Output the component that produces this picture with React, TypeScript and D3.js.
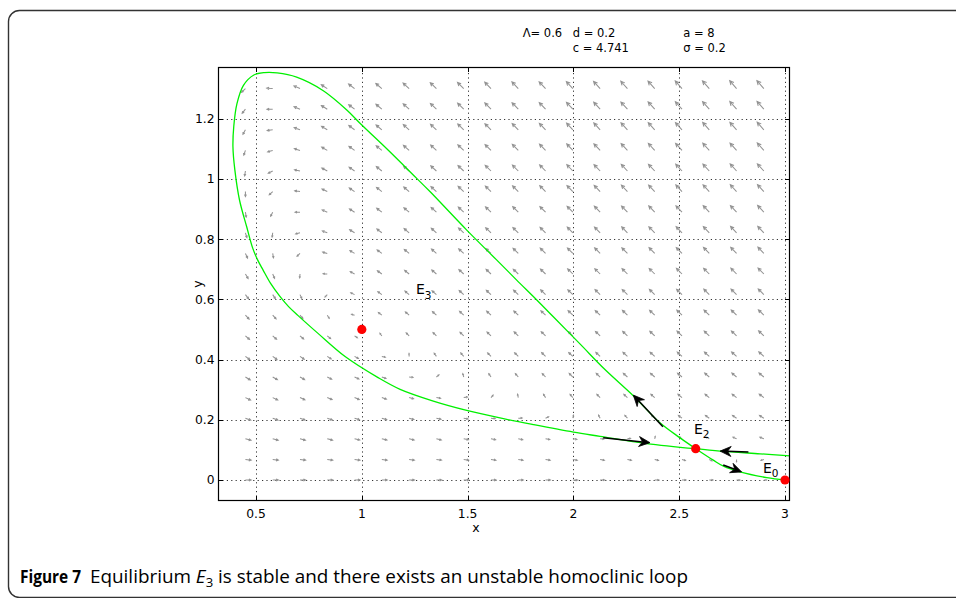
import React from 'react';
import * as d3 from 'd3';

const W = 956;
const H = 598;

// ---- data ----
const X_TICKS = [0.5, 1, 1.5, 2, 2.5, 3];
const X_TICK_LABELS = ['0.5', '1', '1.5', '2', '2.5', '3'];
const Y_TICKS = [0, 0.2, 0.4, 0.6, 0.8, 1, 1.2];
const Y_TICK_LABELS = ['0', '0.2', '0.4', '0.6', '0.8', '1', '1.2'];

// parameters shown in the header
const PARAM_LINE1 = [
  { t: '\u039B= 0.6', x: 522.7 },
  { t: 'd = 0.2', x: 572.7 },
  { t: 'a = 8', x: 683.3 },
];
const PARAM_LINE2 = [
  { t: 'c = 4.741', x: 572.7 },
  { t: '\u03C3 = 0.2', x: 683.3 },
];

// phase-plane model (Lambda, d from the header; incidence fitted to the equilibria)
const LAMBDA = 0.6;
const DEATH = 0.2;
const K_INC = 1.212;
const P_INC = 1.6;
const M_REM = 0.8;

// quiver grid
const FIELD_X = [0.45, 0.5789, 0.7079, 0.8368, 0.9658, 1.0947, 1.2237, 1.3526, 1.4816, 1.6105,
  1.7395, 1.8684, 1.9974, 2.1263, 2.2553, 2.3842, 2.5132, 2.6421, 2.7711, 2.9];
const FIELD_Y = [0, 0.0684, 0.1368, 0.2053, 0.2737, 0.3421, 0.4105, 0.4789, 0.5474, 0.6158,
  0.6842, 0.7526, 0.8211, 0.8895, 0.9579, 1.0263, 1.0947, 1.1632, 1.2316, 1.3];

// homoclinic loop (from E2, up-left, around, back to E2)
const LOOP: [number, number][] = [
  [2.578, 0.104], [2.504, 0.140], [2.409, 0.190], [2.283, 0.280], [2.149, 0.367],
  [2.031, 0.452], [1.905, 0.542], [1.827, 0.598], [1.732, 0.664], [1.637, 0.731],
  [1.496, 0.830], [1.322, 0.958], [1.242, 1.014], [1.118, 1.100], [1.0, 1.179],
  [0.929, 1.229], [0.818, 1.293], [0.692, 1.338], [0.600, 1.352], [0.540, 1.353],
  [0.490, 1.345], [0.440, 1.310], [0.410, 1.250], [0.395, 1.175], [0.391, 1.107],
  [0.400, 1.030], [0.422, 0.930], [0.456, 0.841], [0.484, 0.771], [0.507, 0.732],
  [0.533, 0.698], [0.569, 0.653], [0.613, 0.610], [0.654, 0.576], [0.699, 0.546],
  [0.793, 0.487], [0.921, 0.410], [1.077, 0.340], [1.181, 0.301], [1.338, 0.262],
  [1.496, 0.231], [1.653, 0.206], [1.810, 0.184], [2.0, 0.159], [2.126, 0.145],
  [2.346, 0.121], [2.578, 0.104],
];
// stable manifold branch from the right
const STABLE_RIGHT: [number, number][] = [
  [2.578, 0.104], [2.693, 0.096], [2.882, 0.087], [3.03, 0.080],
];
// unstable branch from E2 to E0
const UNSTABLE_E0: [number, number][] = [
  [2.578, 0.104], [2.661, 0.066], [2.709, 0.046], [2.787, 0.027], [2.914, 0.008], [3.0, 0.0],
];

// black direction arrows: [x tail, y tail, x head, y head]
const BLACK_ARROWS: [number, number, number, number][] = [
  [2.423, 0.177, 2.283, 0.282],
  [2.141, 0.140, 2.362, 0.124],
  [2.827, 0.093, 2.693, 0.096],
  [2.708, 0.050, 2.795, 0.027],
];

const EQUILIBRIA = [
  { name: 'E', sub: '3', x: 1.0, y: 0.5, lx: 416, ly: 294.3 },
  { name: 'E', sub: '2', x: 2.578, y: 0.104, lx: 694, ly: 433.5 },
  { name: 'E', sub: '0', x: 3.0, y: 0.0, lx: 763, ly: 472.5 },
];

// ---- layout ----
const PL = 218, PR = 790, PT = 67, PB = 501;
const xScale = d3.scaleLinear().domain([0.3204, 3.0236]).range([PL, PR]);
const yScale = d3.scaleLinear().domain([-0.0697, 1.3717]).range([PB, PT]);

const TICK_FONT = 'DejaVu Sans, Verdana, sans-serif';

function vec(x: number, y: number): [number, number] {
  const h = K_INC * x * Math.pow(y, P_INC);
  return [LAMBDA - DEATH * x - h, h - M_REM * y];
}

function fieldPaths(): string[] {
  const out: string[] = [];
  const sx = (xScale(1) - xScale(0));
  const sy = (yScale(0) - yScale(1));
  for (const yv of FIELD_Y) {
    for (const xv of FIELD_X) {
      const [u, v] = vec(xv, yv);
      const s = Math.hypot(u, v);
      if (s < 1e-9) continue;
      const dx = u * sx, dy = -v * sy;
      const dl = Math.hypot(dx, dy);
      const ux = dx / dl, uy = dy / dl;
      const L = 6.8 * Math.pow(s, 0.23);
      const bx = xScale(xv), by = yScale(yv);
      const tx = bx + L * ux, ty = by + L * uy;
      const hl = 0.44 * L;
      const ang = (26 * Math.PI) / 180;
      const c = Math.cos(ang), sn = Math.sin(ang);
      const bxu = -ux, byu = -uy;
      const h1x = tx + hl * (bxu * c - byu * sn), h1y = ty + hl * (bxu * sn + byu * c);
      const h2x = tx + hl * (bxu * c + byu * sn), h2y = ty + hl * (-bxu * sn + byu * c);
      out.push(`M${bx.toFixed(2)},${by.toFixed(2)}L${tx.toFixed(2)},${ty.toFixed(2)}M${h1x.toFixed(2)},${h1y.toFixed(2)}L${tx.toFixed(2)},${ty.toFixed(2)}L${h2x.toFixed(2)},${h2y.toFixed(2)}`);
    }
  }
  return out;
}

function blackArrow(a: [number, number, number, number]) {
  const x1 = xScale(a[0]), y1 = yScale(a[1]), x2 = xScale(a[2]), y2 = yScale(a[3]);
  const len = Math.hypot(x2 - x1, y2 - y1);
  const ux = (x2 - x1) / len, uy = (y2 - y1) / len;
  const nx = -uy, ny = ux;
  const hl = 11, hw = 5, notch = 3.5;
  const bx = x2 - hl * ux, by = y2 - hl * uy;
  const mx = x2 - (hl - notch) * ux, my = y2 - (hl - notch) * uy;
  const head = `M${x2},${y2}L${bx + hw * nx},${by + hw * ny}L${mx},${my}L${bx - hw * nx},${by - hw * ny}Z`;
  return { shaft: `M${x1},${y1}L${mx},${my}`, head };
}

export default function App() {
  const line = d3.line<[number, number]>()
    .x(d => xScale(d[0]))
    .y(d => yScale(d[1]))
    .curve(d3.curveCatmullRom.alpha(0.5));
  const paths = fieldPaths();
  const gridDash = '1.2,3.2';

  return (
    <svg width={W} height={H} style={{ position: 'absolute', left: 0, top: 0, background: '#fff' }}>
      <defs>
        <clipPath id="plotclip">
          <rect x={PL} y={PT} width={PR - PL} height={PB - PT} />
        </clipPath>
      </defs>
      {/* card border */}
      <rect x={8.5} y={10.5} width={990} height={587} rx={11} ry={11} fill="none" stroke="#333" strokeWidth={1.4} />

      {/* header parameters */}
      <g fontFamily={TICK_FONT} fontSize={11.5} fill="#000">
        {PARAM_LINE1.map(p => <text key={p.t} x={p.x} y={37.3}>{p.t}</text>)}
        {PARAM_LINE2.map(p => <text key={p.t} x={p.x} y={51.7}>{p.t}</text>)}
      </g>

      {/* grid */}
      <g stroke="#333" strokeWidth={1} strokeDasharray={gridDash}>
        {X_TICKS.map(t => (
          <line key={'gx' + t} x1={Math.round(xScale(t)) + 0.5} x2={Math.round(xScale(t)) + 0.5} y1={PB} y2={PT} />
        ))}
        {Y_TICKS.map(t => (
          <line key={'gy' + t} x1={PL} x2={PR} y1={Math.round(yScale(t)) + 0.5} y2={Math.round(yScale(t)) + 0.5} />
        ))}
      </g>

      {/* vector field */}
      <g clipPath="url(#plotclip)" fill="none" stroke="#939393" strokeWidth={1.05}>
        {paths.map((d, i) => <path key={i} d={d} />)}
      </g>

      {/* trajectories */}
      <g clipPath="url(#plotclip)" fill="none" stroke="#00f000" strokeWidth={1.3}>
        <path d={line(LOOP) || ''} />
        <path d={line(STABLE_RIGHT) || ''} />
        <path d={line(UNSTABLE_E0) || ''} />
      </g>

      {/* black arrows */}
      <g>
        {BLACK_ARROWS.map((a, i) => {
          const b = blackArrow(a);
          return (
            <g key={i}>
              <path d={b.shaft} stroke="#000" strokeWidth={1.5} fill="none" />
              <path d={b.head} fill="#000" stroke="#000" strokeWidth={0.8} strokeLinejoin="miter" />
            </g>
          );
        })}
      </g>

      {/* axes box and ticks */}
      <rect x={PL + 0.5} y={PT + 0.5} width={PR - PL - 1} height={PB - PT - 1} fill="none" stroke="#000" strokeWidth={1.2} />
      <g stroke="#000" strokeWidth={1}>
        {X_TICKS.map(t => {
          const x = Math.round(xScale(t)) + 0.5;
          return (
            <g key={'tx' + t}>
              <line x1={x} x2={x} y1={PB} y2={PB - 5} />
              <line x1={x} x2={x} y1={PT} y2={PT + 5} />
            </g>
          );
        })}
        {Y_TICKS.map(t => {
          const y = Math.round(yScale(t)) + 0.5;
          return (
            <g key={'ty' + t}>
              <line x1={PL} x2={PL + 5} y1={y} y2={y} />
              <line x1={PR} x2={PR - 5} y1={y} y2={y} />
            </g>
          );
        })}
      </g>

      {/* tick labels */}
      <g fontFamily={TICK_FONT} fontSize={12.3} fill="#000">
        {X_TICKS.map((t, i) => (
          <text key={'lx' + t} x={xScale(t)} y={517.5} textAnchor="middle">{X_TICK_LABELS[i]}</text>
        ))}
        {Y_TICKS.map((t, i) => (
          <text key={'ly' + t} x={214.5} y={yScale(t) + 4.4} textAnchor="end">{Y_TICK_LABELS[i]}</text>
        ))}
        <text x={476} y={532} textAnchor="middle" fontSize={12.5}>x</text>
        <text transform="translate(202,284) rotate(-90)" textAnchor="middle" fontSize={12.5}>y</text>
      </g>

      {/* equilibria */}
      <g fill="#ff0000">
        {EQUILIBRIA.map(e => <circle key={e.sub} cx={xScale(e.x)} cy={yScale(e.y)} r={4.6} />)}
      </g>
      <g fontFamily={TICK_FONT} fill="#000">
        {EQUILIBRIA.map(e => (
          <text key={'t' + e.sub} x={e.lx} y={e.ly} fontSize={14}>
            {e.name}
            <tspan fontSize={10.5} dy={4.5}>{e.sub}</tspan>
          </text>
        ))}
      </g>

      {/* caption */}
      <text x={20} y={583} fontFamily="'Open Sans', sans-serif" fontSize={18} fontWeight="bold" fill="#000"
        textLength={61} lengthAdjust="spacingAndGlyphs">Figure 7</text>
      <text x={90} y={583} fontFamily="'Open Sans', sans-serif" fontSize={18} fill="#000"
        textLength={598} lengthAdjust="spacingAndGlyphs">
        <tspan>{'Equilibrium '}</tspan>
        <tspan fontStyle="italic">E</tspan>
        <tspan fontSize={12.5} dy={3.5}>3</tspan>
        <tspan dy={-3.5}>{' is stable and there exists an unstable homoclinic loop'}</tspan>
      </text>
    </svg>
  );
}
